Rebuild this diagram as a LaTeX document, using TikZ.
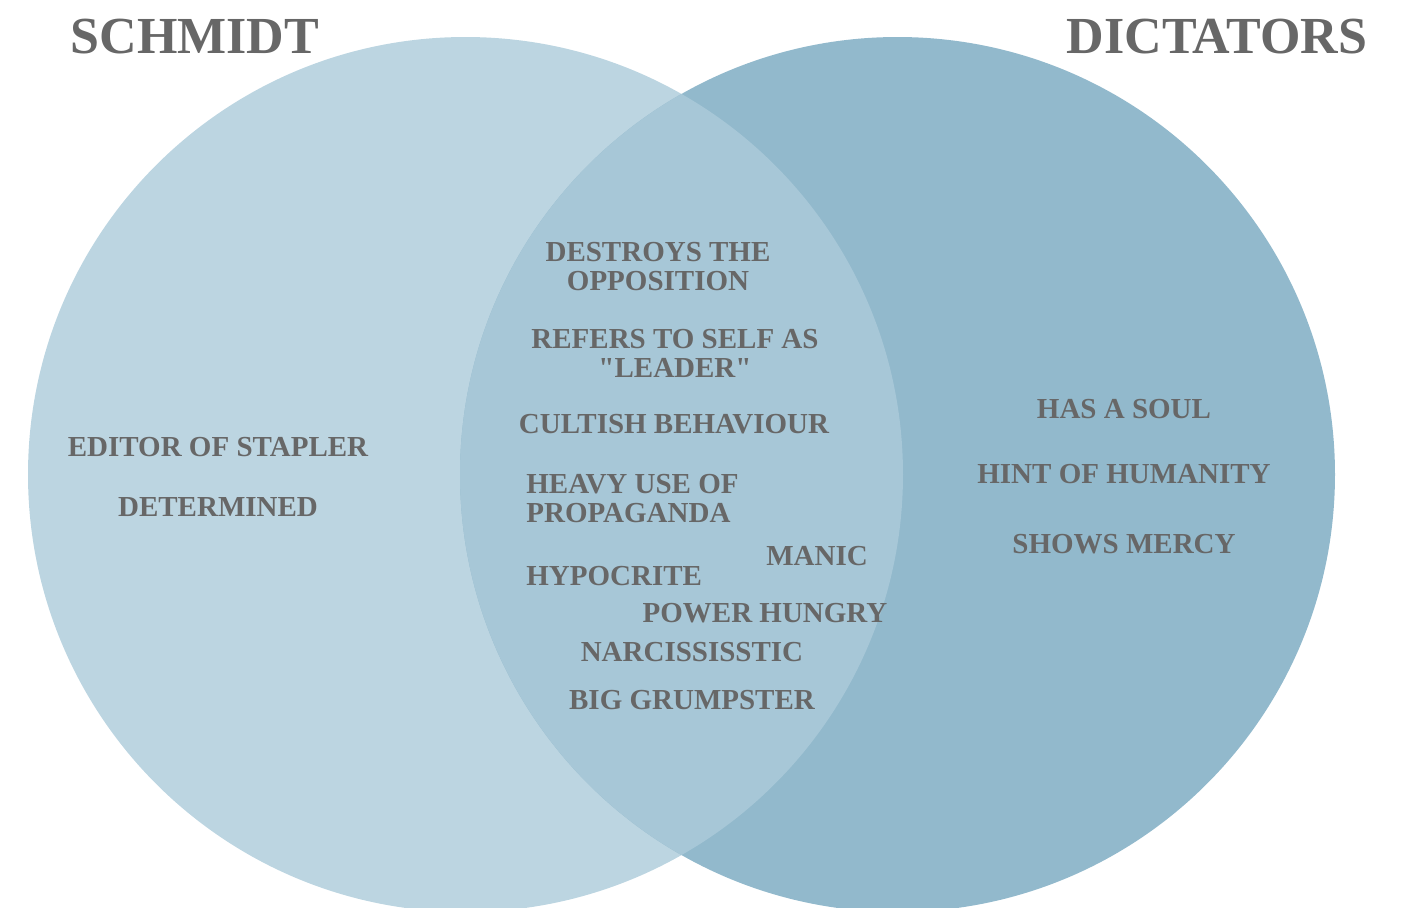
\documentclass[tikz,border=0pt]{standalone}
\usepackage{fontspec}
\setmainfont{Liberation Serif}[Ligatures=TeXOff]
\definecolor{leftset}{HTML}{BCD5E1}
\definecolor{rightset}{HTML}{92B9CC}
\definecolor{overlapset}{HTML}{A7C7D7}
\definecolor{inkgrey}{HTML}{676767}
\tikzset{
  title/.style={text=inkgrey, font=\bfseries\fontsize{26}{28}\selectfont, inner sep=0pt},
  item/.style={text=inkgrey, font=\bfseries\fontsize{14.5}{14.5}\selectfont, inner sep=0pt, align=center},
  itemleft/.style={item, align=left, anchor=west},
}
\begin{document}
\begin{tikzpicture}[x=0.5pt,y=-0.5pt]
  \useasboundingbox (0,0) rectangle (1405,907);
  \clip (0,0) rectangle (1405,907);
  % the two sets
  \fill[leftset]  (465.5,474.5) circle (218.75pt);
  \fill[rightset] (897.5,474.5) circle (218.75pt);
  \begin{scope}
    \clip (465.5,474.5) circle (218.75pt);
    \fill[overlapset] (897.5,474.5) circle (218.75pt);
  \end{scope}
  % set titles
  \node[title] (tleft)  at (195,37)  {SCHMIDT};
  \node[title] (tright) at (1217,37) {DICTATORS};
  % Schmidt only
  \node[item] (editor) at (218,447) {EDITOR OF STAPLER};
  \node[item] (determined) at (218,507) {DETERMINED};
  % dictators only
  \node[item] (soul) at (1124,409) {HAS A SOUL};
  \node[item] (humanity) at (1124,474) {HINT OF HUMANITY};
  \node[item] (mercy) at (1124,544) {SHOWS MERCY};
  % shared traits
  \node[item] (destroys) at (658,267) {DESTROYS THE\\OPPOSITION};
  \node[item] (leader) at (675,353) {REFERS TO SELF AS\\"LEADER"};
  \node[item] (cultish) at (674,424) {CULTISH BEHAVIOUR};
  \node[itemleft] (propaganda) at (526,499) {HEAVY USE OF\\PROPAGANDA};
  \node[item] (manic) at (817,556) {MANIC};
  \node[itemleft] (hypocrite) at (526,576) {HYPOCRITE};
  \node[item] (power) at (765,613) {POWER HUNGRY};
  \node[item] (narc) at (692,652) {NARCISSISSTIC};
  \node[item] (grump) at (692,700) {BIG GRUMPSTER};
\end{tikzpicture}
\end{document}
